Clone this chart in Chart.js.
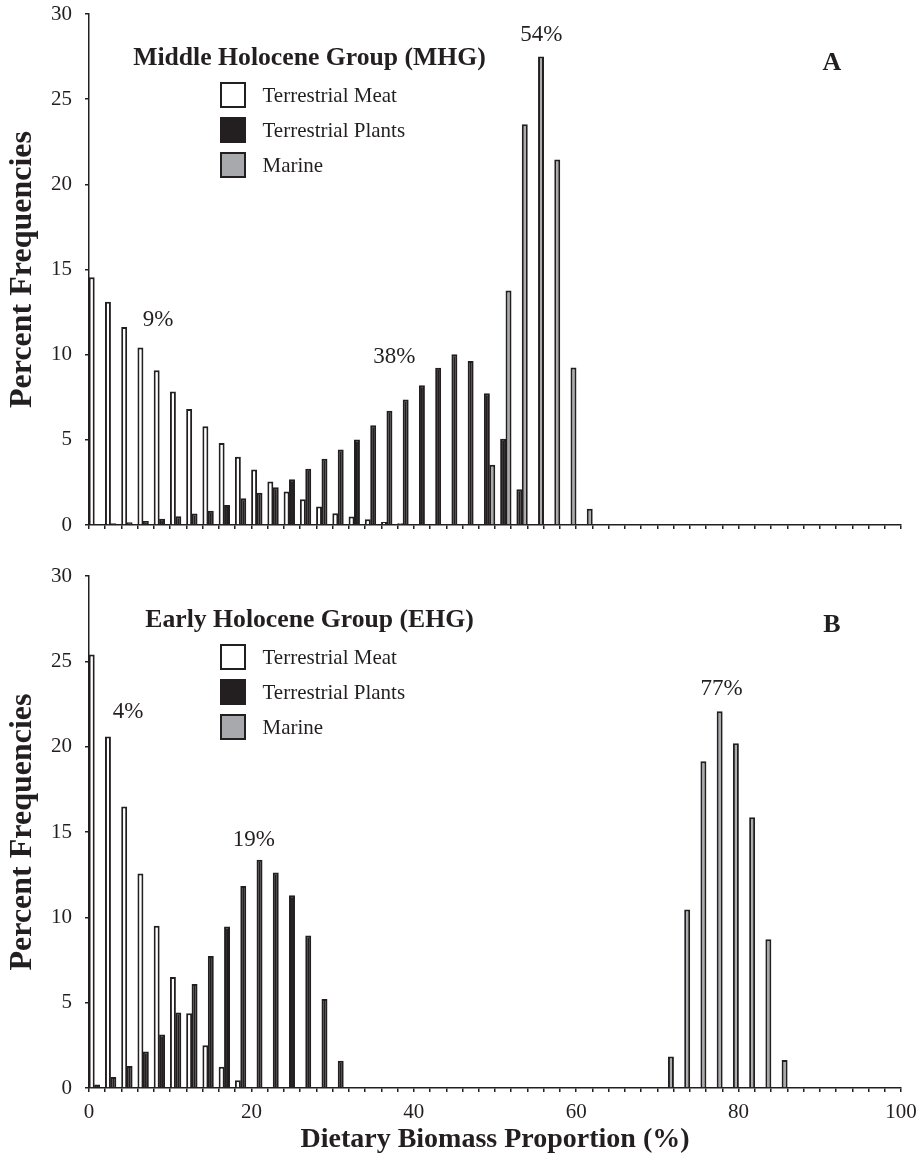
<!DOCTYPE html>
<html lang="en">
<head>
<meta charset="UTF-8">
<title>Dietary Biomass Proportion</title>
<script src="https://cdn.jsdelivr.net/npm/chart.js"></script>
<style>
  body { margin: 0; background: #fff; overflow: hidden; }
  canvas { display: block; }
</style>
</head>
<body>
<canvas id="chartA" width="916" height="545"></canvas>
<canvas id="chartB" width="916" height="614"></canvas>
<script>
// bin centres (2% wide bins)
const bins = [1, 3, 5, 7, 9, 11, 13, 15, 17, 19, 21, 23, 25, 27, 29, 31, 33, 35, 37, 39,
              41, 43, 45, 47, 49, 51, 53, 55, 57, 59, 61, 63, 65, 67, 69, 71, 73, 75, 77, 79,
              81, 83, 85, 87, 89, 91, 93, 95, 97, 99];
const seriesNames = ['Terrestrial Meat', 'Terrestrial Plants', 'Marine'];
const xTickLabels = [0, 20, 40, 60, 80, 100];

// A - Middle Holocene Group
const meatA = [14.55, 13.1, 11.63, 10.42, 9.09, 7.84, 6.81, 5.8, 4.82, 4.01,
               3.26, 2.56, 1.97, 1.51, 1.09, 0.69, 0.5, 0.34, 0.18, 0.1,
               0.04, 0, 0, 0, 0, 0, 0, 0, 0, 0,
               0, 0, 0, 0, 0, 0, 0, 0, 0, 0,
               0, 0, 0, 0, 0, 0, 0, 0, 0, 0];
const plantsA = [0.06, 0.1, 0.16, 0.24, 0.36, 0.52, 0.67, 0.83, 1.17, 1.57,
                 1.89, 2.22, 2.68, 3.3, 3.89, 4.43, 5.02, 5.86, 6.71, 7.37,
                 8.2, 9.23, 10.03, 9.63, 7.74, 5.06, 2.1, 0.04, 0, 0,
                 0, 0, 0, 0, 0, 0, 0, 0, 0, 0,
                 0, 0, 0, 0, 0, 0, 0, 0, 0, 0];
const marineA = [0, 0, 0, 0, 0, 0, 0, 0, 0, 0,
                 0, 0, 0, 0, 0, 0, 0, 0, 0, 0,
                 0, 0, 0, 0, 3.53, 13.76, 23.53, 27.5, 21.46, 9.25,
                 0.95, 0, 0, 0, 0, 0, 0, 0, 0, 0,
                 0, 0, 0, 0, 0, 0, 0, 0, 0, 0];

// B - Early Holocene Group
const meatB = [25.4, 20.6, 16.5, 12.57, 9.5, 6.5, 4.38, 2.51, 1.25, 0.46,
               0.06, 0, 0, 0, 0, 0, 0, 0, 0, 0,
               0, 0, 0, 0, 0, 0, 0, 0, 0, 0,
               0, 0, 0, 0, 0, 0, 0, 0, 0, 0,
               0, 0, 0, 0, 0, 0, 0, 0, 0, 0];
const plantsB = [0.2, 0.65, 1.29, 2.14, 3.13, 4.42, 6.1, 7.74, 9.47, 11.84,
                 13.37, 12.63, 11.29, 8.93, 5.21, 1.6, 0, 0, 0, 0,
                 0, 0, 0, 0, 0, 0, 0, 0, 0, 0,
                 0, 0, 0, 0, 0, 0, 0, 0, 0, 0,
                 0, 0, 0, 0, 0, 0, 0, 0, 0, 0];
const marineB = [0, 0, 0, 0, 0, 0, 0, 0, 0, 0,
                 0, 0, 0, 0, 0, 0, 0, 0, 0, 0,
                 0, 0, 0, 0, 0, 0, 0, 0, 0, 0,
                 0, 0, 0, 0, 0, 1.84, 10.46, 19.15, 22.08, 20.2,
                 15.86, 8.71, 1.64, 0.06, 0, 0, 0, 0, 0, 0];

// peak labels (placed in data units)
const notesA = [{ text: '9%', x: 8.5, y: 11.7 }, { text: '38%', x: 37.6, y: 9.5 }, { text: '54%', x: 55.7, y: 28.4 }];
const notesB = [{ text: '4%', x: 4.8, y: 21.7 }, { text: '19%', x: 20.3, y: 14.2 }, { text: '77%', x: 77.9, y: 23.05 }];

const ink = '#231f20';
const fills = ['#ffffff', '#231f20', '#a7a9ac'];
const serif = '"Liberation Serif", "Times New Roman", serif';
Chart.defaults.font.family = serif;
Chart.defaults.color = ink;

function panelText(title, letter, notes) {
    return {
        id: 'panelText',
        afterDraw(chart) {
            const { ctx, chartArea: a, scales: { x, y } } = chart;
            ctx.save();
            ctx.fillStyle = ink;
            ctx.textAlign = 'center';
            ctx.textBaseline = 'alphabetic';
            ctx.font = 'bold 25.7px ' + serif;
            ctx.fillText(title, a.left + 220.5, a.top + 51);
            ctx.font = 'bold 26px ' + serif;
            ctx.fillText(letter, a.right - 69, a.top + 56);

            // legend
            ctx.font = '21px ' + serif;
            ctx.textAlign = 'left';
            ctx.textBaseline = 'middle';
            chart.data.datasets.forEach((ds, i) => {
                const cy = a.top + 81 + i * 35;
                ctx.fillStyle = ds.backgroundColor;
                ctx.fillRect(a.left + 132, cy - 12, 24, 24);
                ctx.lineWidth = 2;
                ctx.strokeStyle = ink;
                ctx.strokeRect(a.left + 132, cy - 12, 24, 24);
                ctx.fillStyle = ink;
                ctx.fillText(ds.label, a.left + 173.5, cy + 1);
            });

            ctx.font = '23px ' + serif;
            ctx.textAlign = 'center';
            ctx.textBaseline = 'alphabetic';
            notes.forEach(n => ctx.fillText(n.text, x.getPixelForValue(n.x), y.getPixelForValue(n.y)));
            ctx.restore();
        }
    };
}

function makePanel(id, series, opts) {
    const datasets = series.map((vals, i) => ({
        label: seriesNames[i],
        data: bins.map((b, j) => ({ x: b, y: vals[j] })),
        backgroundColor: fills[i],
        borderColor: ink,
        borderWidth: 2,
        categoryPercentage: 1.0,
        barPercentage: 1.1
    }));

    return new Chart(document.getElementById(id).getContext('2d'), {
        type: 'bar',
        data: { datasets },
        options: {
            responsive: false,
            animation: false,
            events: [],
            layout: { padding: { top: opts.top, right: 15, bottom: 0, left: 0 } },
            plugins: { legend: { display: false }, tooltip: { enabled: false } },
            scales: {
                x: {
                    type: 'linear',
                    min: 0, max: 100,
                    offset: false,
                    ticks: {
                        stepSize: 2, autoSkip: false, maxRotation: 0,
                        padding: 8,
                        font: { size: 21 },
                        callback: v => (opts.labels && xTickLabels.includes(v)) ? v : ''
                    },
                    grid: { offset: false, drawOnChartArea: false, tickLength: 4, color: ink, lineWidth: 1.5 },
                    border: { color: ink, width: 1.5 },
                    title: {
                        display: opts.labels,
                        text: 'Dietary Biomass Proportion (%)',
                        font: { size: 28, weight: 'bold' },
                        padding: { top: 0, bottom: 2 }
                    },
                    afterFit(s) {
                        s.height = opts.xHeight;
                        s.paddingLeft = 0;
                        s.paddingRight = 0;
                    }
                },
                y: {
                    min: 0, max: 30,
                    ticks: { stepSize: 5, padding: 13, font: { size: 21 } },
                    grid: { drawOnChartArea: false, tickLength: 4, color: ink, lineWidth: 1.5 },
                    border: { color: ink, width: 1.5 },
                    title: {
                        display: true,
                        text: 'Percent Frequencies',
                        font: { size: 32, weight: 'bold' },
                        padding: { top: 4, bottom: 0 }
                    },
                    afterFit(s) {
                        s.width = 89;
                        s.paddingTop = 0;
                        s.paddingBottom = 0;
                    }
                }
            }
        },
        plugins: [panelText(opts.title, opts.letter, opts.notes)]
    });
}

makePanel('chartA', [meatA, plantsA, marineA], {
    top: 14, xHeight: 20, labels: false,
    title: 'Middle Holocene Group (MHG)', letter: 'A', notes: notesA
});
makePanel('chartB', [meatB, plantsB, marineB], {
    top: 31, xHeight: 71, labels: true,
    title: 'Early Holocene Group (EHG)', letter: 'B', notes: notesB
});
</script>
</body>
</html>
